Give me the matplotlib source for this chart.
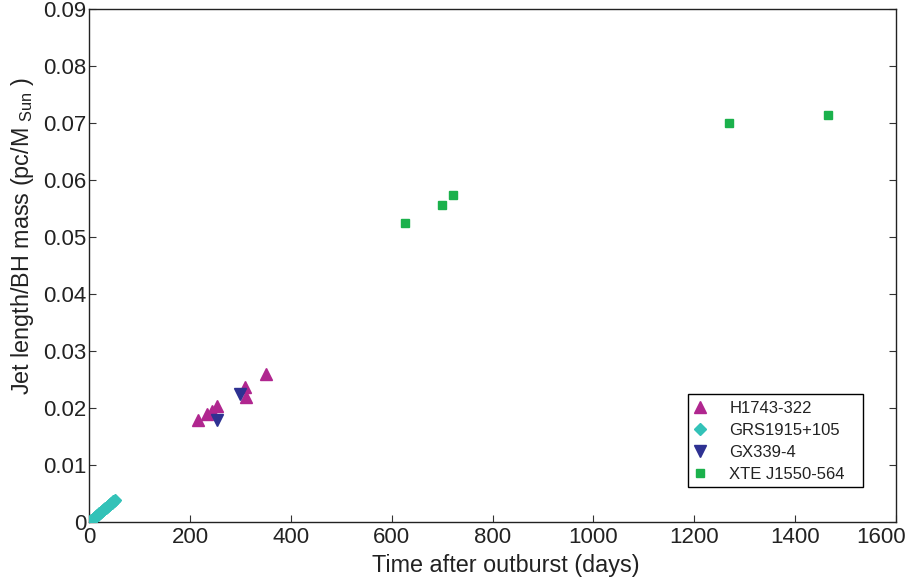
import matplotlib
matplotlib.use("Agg")
import matplotlib.pyplot as plt
from matplotlib.patches import Rectangle
from matplotlib.transforms import ScaledTranslation

plt.rcParams['font.family'] = ['Liberation Sans', 'DejaVu Sans']
plt.rcParams['mathtext.fontset'] = 'custom'
plt.rcParams['mathtext.rm'] = 'Liberation Sans'

# Data
h1743_days = [216, 234, 243, 254, 309, 311, 350]
h1743_len = [0.0179, 0.0190, 0.0194, 0.0204, 0.0236, 0.0219, 0.0260]

grs_days = [1, 3, 5, 7, 9, 11, 13, 15, 17, 19, 21, 23, 25, 27, 29, 31, 33, 35, 37, 39, 41, 43, 45, 47, 49, 51]
grs_len = [0.0001, 0.0003, 0.0004, 0.0006, 0.0007, 0.0009, 0.0010, 0.0012, 0.0013, 0.0015, 0.0016, 0.0018,
           0.0019, 0.0021, 0.0022, 0.0024, 0.0025, 0.0027, 0.0028, 0.0030, 0.0031, 0.0033, 0.0034, 0.0036,
           0.0037, 0.0039]

gx_days = [254, 299]
gx_len = [0.0179, 0.0225]

xte_days = [626, 700, 721, 1268, 1465]
xte_len = [0.0525, 0.0557, 0.0574, 0.0700, 0.0714]

xticks = [0, 200, 400, 600, 800, 1000, 1200, 1400, 1600]
yticks = [0, 0.01, 0.02, 0.03, 0.04, 0.05, 0.06, 0.07, 0.08, 0.09]
yticklabels = ['0', '0.01', '0.02', '0.03', '0.04', '0.05', '0.06', '0.07', '0.08', '0.09']

fig = plt.figure(figsize=(9.09, 5.83), dpi=100)
ax = fig.add_axes([0.0982, 0.1046, 0.8875, 0.88])

ax.plot(grs_days, grs_len, linestyle='none', marker='D', color='#33C2B8', markersize=6.5, label='GRS1915+105', zorder=3)
ax.plot(h1743_days, h1743_len, linestyle='none', marker='^', color='#B0268F', markersize=8.5, label='H1743-322', zorder=3)
ax.plot(gx_days, gx_len, linestyle='none', marker='v', color='#2E3192', markersize=8.5, label='GX339-4', zorder=4)
ax.plot(xte_days, xte_len, linestyle='none', marker='s', color='#1BB14C', markersize=6.3, label='XTE J1550-564', zorder=3)

ax.set_xlim(0, 1600)
ax.set_ylim(0, 0.09)
ax.set_xticks(xticks)
ax.set_xticklabels([str(t) for t in xticks])
ax.set_yticks(yticks)
ax.set_yticklabels(yticklabels)
ax.tick_params(direction='in', length=5, labelsize=16, top=False, right=True,
               colors='#333333', labelcolor='#222222')
ax.tick_params(axis='x', pad=3.5)
ax.tick_params(axis='y', pad=2)
for s in ax.spines.values():
    s.set_linewidth(1.0)
    s.set_color('#222222')

# last x tick label nudged left so it stays inside the figure
last_lab = ax.get_xticklabels()[-1]
last_lab.set_transform(last_lab.get_transform() + ScaledTranslation(-0.15, 0, fig.dpi_scale_trans))

ax.set_xlabel('Time after outburst (days)', fontsize=16.8, labelpad=4.5, color='#222222', x=0.5166)
ax.set_ylabel('Jet length/BH mass (pc/M$_{\\mathregular{\\ Sun}}$ )', fontsize=16.8, labelpad=5,
              color='#222222', y=0.5575)

handles, labels = ax.get_legend_handles_labels()
order = [labels.index(l) for l in ['H1743-322', 'GRS1915+105', 'GX339-4', 'XTE J1550-564']]
leg = ax.legend([handles[i] for i in order], [labels[i] for i in order],
                loc='upper left', bbox_to_anchor=(0.742, 0.2495), borderaxespad=0,
                fontsize=12, frameon=False,
                handlelength=0.64, handletextpad=1.45, labelspacing=0.42, borderpad=0.4)
for t in leg.get_texts():
    t.set_color('#222222')
ax.add_patch(Rectangle((0.742, 0.0682), 0.2169, 0.1813, transform=ax.transAxes,
                       fill=False, edgecolor='black', linewidth=1.0, zorder=5))

fig.savefig('out.png', dpi=100)
